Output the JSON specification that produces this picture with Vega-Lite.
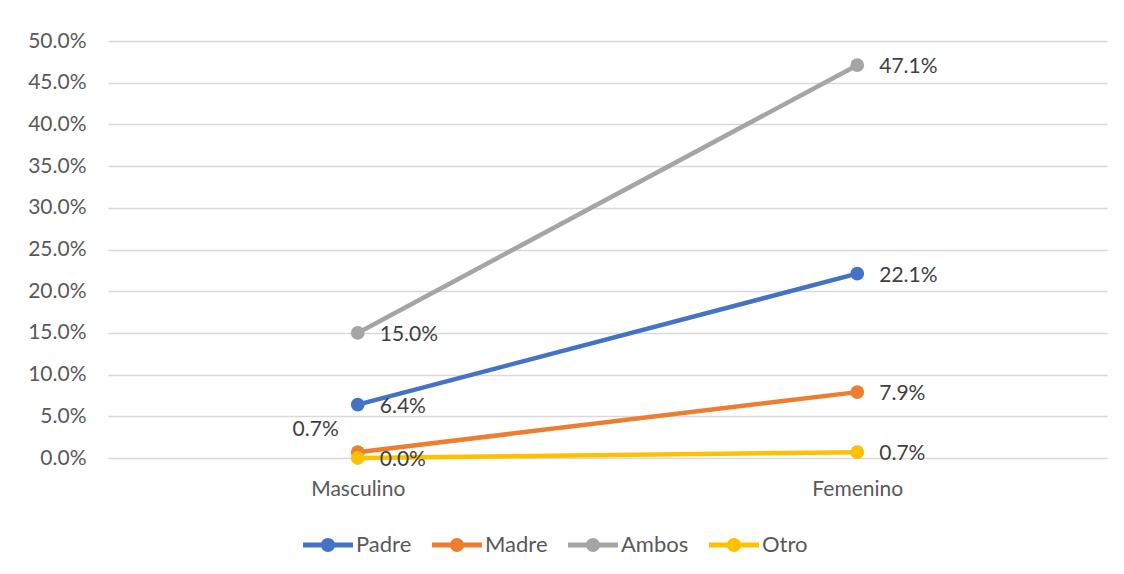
{
  "$schema": "https://vega.github.io/schema/vega-lite/v6.json",
  "autosize": {"type": "none"},
  "padding": {"left": 108, "top": 41, "right": 17, "bottom": 116},
  "width": 999,
  "height": 417,
  "background": "white",
  "config": {
    "view": {"stroke": null},
    "font": "Lato",
    "axis": {"labelFont": "Lato", "labelFontSize": 21, "labelColor": "#595959"},
    "legend": {"labelFont": "Lato", "labelFontSize": 22, "labelColor": "#595959"}
  },
  "data": {
    "values": [
      {"genero": "Masculino", "serie": "Padre", "valor": 0.064},
      {"genero": "Femenino", "serie": "Padre", "valor": 0.221},
      {"genero": "Masculino", "serie": "Madre", "valor": 0.007},
      {"genero": "Femenino", "serie": "Madre", "valor": 0.079},
      {"genero": "Masculino", "serie": "Ambos", "valor": 0.15},
      {"genero": "Femenino", "serie": "Ambos", "valor": 0.471},
      {"genero": "Masculino", "serie": "Otro", "valor": 0.0},
      {"genero": "Femenino", "serie": "Otro", "valor": 0.007}
    ]
  },
  "encoding": {
    "x": {
      "field": "genero", "type": "nominal", "sort": ["Masculino", "Femenino"],
      "scale": {"type": "point", "padding": 0.5},
      "axis": {"title": null, "labelAngle": 0, "domain": false, "ticks": false, "labelPadding": 20}
    },
    "y": {
      "field": "valor", "type": "quantitative",
      "scale": {"domain": [0, 0.5], "nice": false},
      "axis": {"title": null, "format": ".1%", "values": [0, 0.05, 0.1, 0.15, 0.2, 0.25, 0.3, 0.35, 0.4, 0.45, 0.5], "domain": false, "ticks": false, "labelPadding": 22, "gridColor": "#d9d9d9", "gridWidth": 1.5}
    },
    "color": {
      "field": "serie", "type": "nominal",
      "scale": {"domain": ["Padre", "Madre", "Ambos", "Otro"], "range": ["#4472C4", "#ED7D31", "#A5A5A5", "#FFC000"]},
      "legend": {
        "title": null, "orient": "none", "direction": "horizontal", "legendX": 195, "legendY": 479,
        "symbolType": "M -1 -0.1 L 1 -0.1 L 1 0.1 L -1 0.1 Z M 0.28 0 A 0.28 0.28 0 1 1 -0.28 0 A 0.28 0.28 0 1 1 0.28 0 Z",
        "symbolSize": 2500, "symbolStrokeWidth": 0, "symbolOpacity": 1, "labelOffset": 3, "columnPadding": 20
      }
    }
  },
  "layer": [
    {"mark": {"type": "line", "strokeWidth": 4.5}},
    {"mark": {"type": "point", "filled": true, "size": 190, "opacity": 1}},
    {
      "transform": [{"filter": "!(datum.serie == 'Madre' && datum.genero == 'Masculino')"}],
      "mark": {"type": "text", "align": "left", "dx": 22, "dy": 2, "fontSize": 21, "font": "Lato", "color": "#404040"},
      "encoding": {"text": {"field": "valor", "format": ".1%"}, "color": {"value": "#404040"}}
    },
    {
      "transform": [{"filter": "datum.serie == 'Madre' && datum.genero == 'Masculino'"}],
      "mark": {"type": "text", "align": "right", "dx": -19, "dy": -22, "fontSize": 21, "font": "Lato", "color": "#404040"},
      "encoding": {"text": {"field": "valor", "format": ".1%"}, "color": {"value": "#404040"}}
    }
  ]
}
